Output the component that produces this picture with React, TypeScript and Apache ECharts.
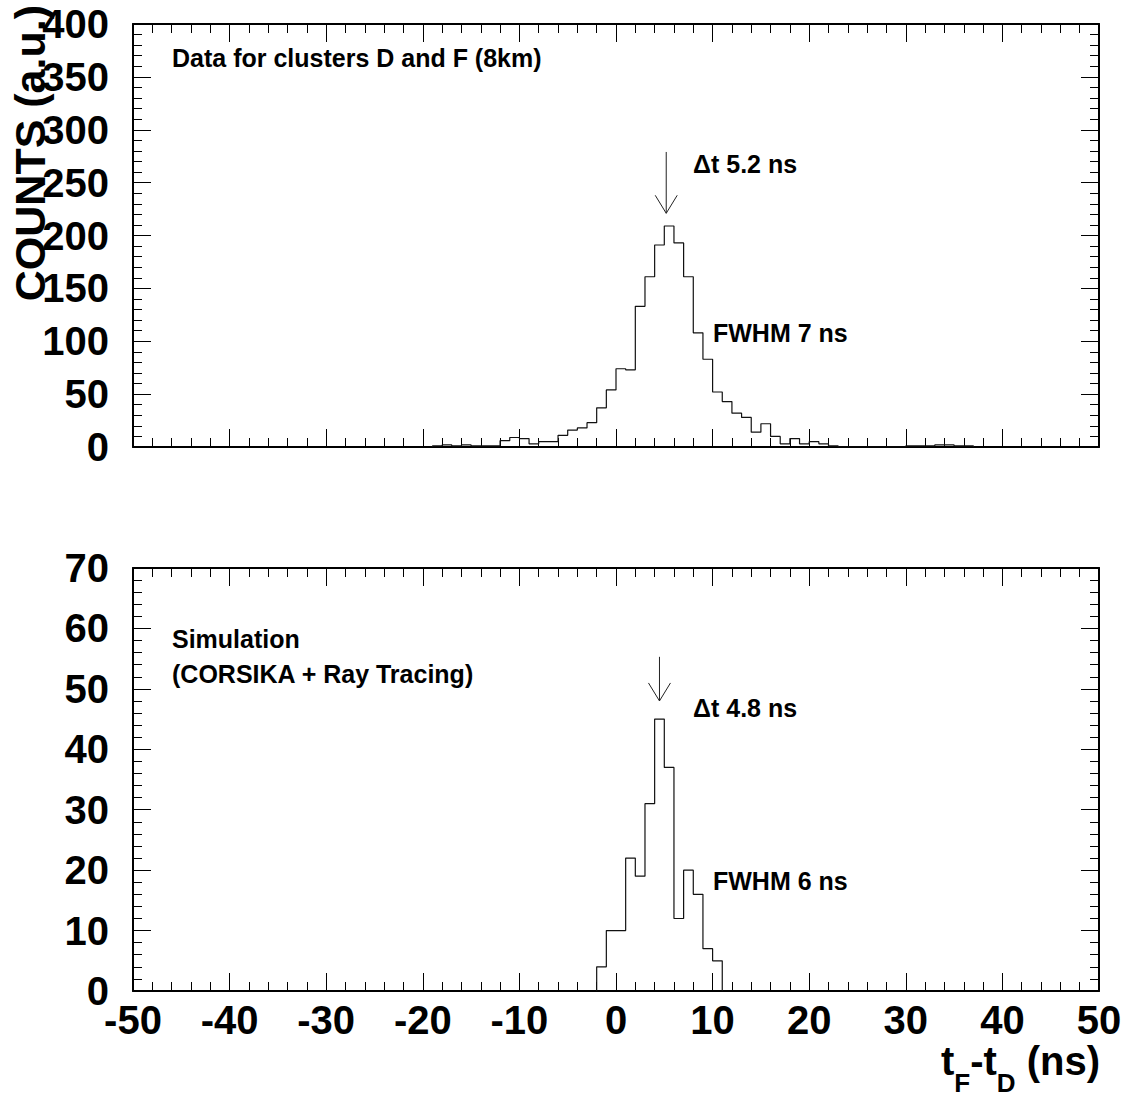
import React, { useEffect, useRef } from "react";
import * as echarts from "echarts";

// ---- data ----
// top panel: measured data, 1 ns bins starting at topStart
const topStart = -19;
const topCounts = [
  1, 2, 1, 2, 1, 1, 1, 6, 9, 8, 3, 5, 5, 11, 16, 18, 23, 37, 54, 74, 73, 133, 161, 191, 209, 193, 161, 108,
  83, 52, 43, 32, 28, 14, 22, 10, 3, 8, 3, 5, 3, 1, 0, 0, 0, 0, 0, 0, 0, 1, 1, 1, 2, 2, 1, 1,
];
// bottom panel: simulation, 1 ns bins starting at botStart
const botStart = -2;
const botCounts = [4, 10, 10, 22, 19, 31, 45, 37, 12, 20, 16, 7, 5];

const xTicks = { min: -50, max: 50, interval: 10 };
const topY = { min: 0, max: 400, interval: 50 };
const botY = { min: 0, max: 70, interval: 10 };

const topArrow = { x: 5.2, from: 279, to: 221 };
const botArrow = { x: 4.5, from: 55.3, to: 48 };

const FONT = "'Liberation Sans', Arial, Helvetica, sans-serif";

function stepData(start: number, counts: number[]) {
  const d: number[][] = [[start, 0]];
  counts.forEach((c, i) => d.push([start + i, c]));
  d.push([start + counts.length, 0]);
  return d;
}

function makeX(grid: number, position: "bottom" | "top", labels: boolean) {
  return {
    type: "value",
    gridIndex: grid,
    position,
    min: xTicks.min,
    max: xTicks.max,
    interval: xTicks.interval,
    axisLine: { show: true, onZero: false, lineStyle: { color: "#000", width: 2 } },
    axisTick: { show: true, inside: true, length: 18, lineStyle: { color: "#000", width: 1 } },
    minorTick: { show: true, splitNumber: 5, length: 9, lineStyle: { color: "#000", width: 1 } },
    splitLine: { show: false },
    axisLabel: {
      show: labels,
      margin: 9,
      color: "#000",
      fontSize: 40,
      fontWeight: "bold",
      fontFamily: FONT,
      formatter: (v: number) => String(v),
    },
  };
}

function makeY(grid: number, position: "left" | "right", r: { min: number; max: number; interval: number }, labels: boolean) {
  return {
    type: "value",
    gridIndex: grid,
    position,
    min: r.min,
    max: r.max,
    interval: r.interval,
    axisLine: { show: true, onZero: false, lineStyle: { color: "#000", width: 2 } },
    axisTick: { show: true, inside: true, length: 18, lineStyle: { color: "#000", width: 1 } },
    minorTick: { show: true, splitNumber: 5, length: 9, lineStyle: { color: "#000", width: 1 } },
    splitLine: { show: false },
    axisLabel: {
      show: labels,
      margin: 24,
      color: "#000",
      fontSize: 40,
      fontWeight: "bold",
      fontFamily: FONT,
    },
  };
}

export default function App() {
  const ref = useRef<HTMLDivElement>(null);
  useEffect(() => {
    if (!ref.current) return;
    const chart = echarts.init(ref.current, null, { renderer: "svg" });
    chart.setOption({
      animation: false,
      backgroundColor: "#fff",
      grid: [
        { left: 133, top: 24, width: 966, height: 423 },
        { left: 133, top: 568, width: 966, height: 423 },
      ],
      xAxis: [makeX(0, "bottom", false), makeX(0, "top", false), makeX(1, "bottom", true), makeX(1, "top", false)],
      yAxis: [makeY(0, "left", topY, true), makeY(0, "right", topY, false), makeY(1, "left", botY, true), makeY(1, "right", botY, false)],
      series: [
        {
          type: "line",
          xAxisIndex: 0,
          yAxisIndex: 0,
          step: "end",
          symbol: "none",
          data: stepData(topStart, topCounts),
          lineStyle: { color: "#111", width: 1.2 },
        },
        {
          type: "line",
          xAxisIndex: 2,
          yAxisIndex: 2,
          step: "end",
          symbol: "none",
          data: stepData(botStart, botCounts),
          lineStyle: { color: "#111", width: 1.2 },
        },
      ],
    });

    const arrow = (si: number, a: { x: number; from: number; to: number }) => {
      const p0 = chart.convertToPixel({ seriesIndex: si }, [a.x, a.from]) as number[];
      const p1 = chart.convertToPixel({ seriesIndex: si }, [a.x, a.to]) as number[];
      const st = { stroke: "#222", lineWidth: 1 };
      return [
        { type: "line", shape: { x1: p0[0], y1: p0[1], x2: p1[0], y2: p1[1] }, style: st },
        { type: "line", shape: { x1: p1[0] - 11, y1: p1[1] - 18, x2: p1[0], y2: p1[1] }, style: st },
        { type: "line", shape: { x1: p1[0] + 11, y1: p1[1] - 18, x2: p1[0], y2: p1[1] }, style: st },
      ];
    };

    const txt = (x: number, y: number, text: string, size = 25) => ({
      type: "text",
      x,
      y,
      style: {
        text,
        fill: "#000",
        font: `bold ${size}px ${FONT}`,
        textAlign: "left",
        textVerticalAlign: "middle",
      },
    });

    chart.setOption({
      graphic: [
        ...arrow(0, topArrow),
        ...arrow(1, botArrow),
        txt(172, 58, "Data for clusters D and F (8km)"),
        txt(693, 164, "\u0394t 5.2 ns"),
        txt(713, 333, "FWHM 7 ns"),
        txt(172, 639, "Simulation"),
        txt(172, 674, "(CORSIKA + Ray Tracing)"),
        txt(693, 708, "\u0394t 4.8 ns"),
        txt(713, 881, "FWHM 6 ns"),
        {
          type: "text",
          x: 30,
          y: 5,
          rotation: Math.PI / 2,
          style: {
            text: "COUNTS (a.u.)",
            fill: "#000",
            font: `bold 43px ${FONT}`,
            textAlign: "right",
            textVerticalAlign: "middle",
          },
        },
        {
          type: "text",
          x: 1100,
          y: 1041,
          style: {
            text: "{m|t}{s|F}{m|-t}{s|D}{m| (ns)}",
            textAlign: "right",
            textVerticalAlign: "top",
            rich: {
              m: { fontSize: 40, fontWeight: "bold", fontFamily: FONT, fill: "#000", lineHeight: 44, verticalAlign: "top" },
              s: { fontSize: 26, fontWeight: "bold", fontFamily: FONT, fill: "#000", lineHeight: 84, verticalAlign: "middle" },
            },
          },
        },
      ],
    });

    return () => chart.dispose();
  }, []);
  return <div ref={ref} style={{ position: "fixed", left: 0, top: 0, width: 1127, height: 1097, background: "#fff" }} />;
}
